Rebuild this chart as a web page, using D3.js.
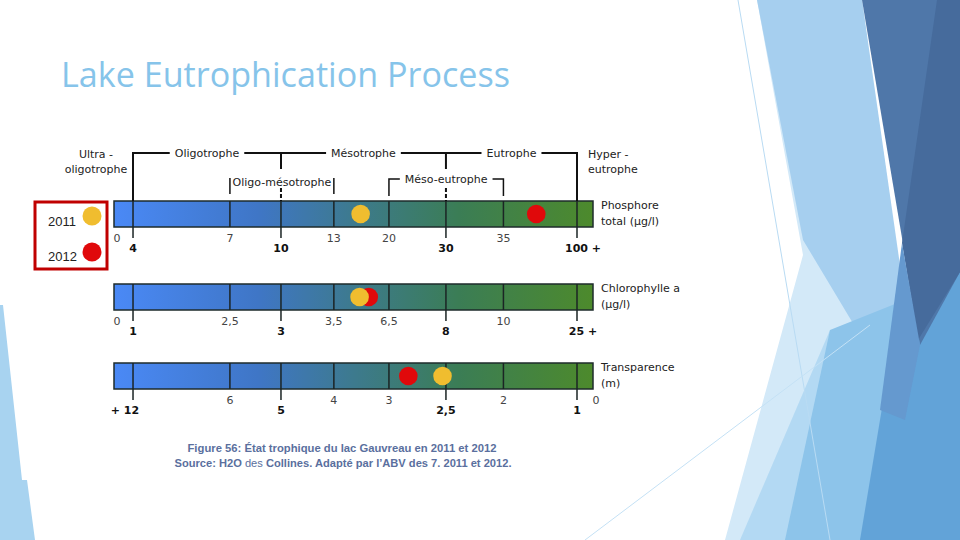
<!DOCTYPE html>
<html>
<head>
<meta charset="utf-8">
<script src="https://cdn.jsdelivr.net/npm/d3@7"></script>
<style>
body { margin: 0; background: #fff; }
svg { display: block; }
</style>
</head>
<body>
<svg id="slide" width="960" height="540"></svg>
<script>
// ---- data ----
var indicatorLabels = [["Phosphore", "total (µg/l)"], ["Chlorophylle a", "(µg/l)"], ["Transparence", "(m)"]];
var phosphoreTicks = [4, 7, 10, 13, 20, 30, 35, 100];
var chlorophylleTicks = [1, 2.5, 3, 3.5, 6.5, 8, 10, 25];
var transparenceTicks = [12, 6, 5, 4, 3, 2.5, 2, 1];
var phosphoreLabels = ["4", "7", "10", "13", "20", "30", "35", "100 +"];
var chlorophylleLabels = ["1", "2,5", "3", "3,5", "6,5", "8", "10", "25 +"];
var transparenceLabels = ["+ 12", "6", "5", "4", "3", "2,5", "2", "1"];
var majorTicks = [0, 2, 5, 7];           // tick index of the main class limits
var years = ["2011", "2012"];
var values2011 = [16.4, 4.9, 2.53];
var values2012 = [64, 5.4, 2.83];
var trophicClasses = ["Oligotrophe", "Mésotrophe", "Eutrophe"];
var transitionClasses = ["Oligo-mésotrophe", "Méso-eutrophe"];

// ---- layout ----
var barX0 = 114, barX1 = 593, barH = 26;
var barTops = [201, 284, 363];
var limitPos = [.0397, .242, .3486, .459, .574, .693, .813, .9666]; // where class limits sit on the bar
var yearColors = {"2011": "#f0bd2f", "2012": "#e0090b"};
var ink = "#222";
var font = "DejaVu Sans";

var svg = d3.select("#slide");

// ---- slide decoration (theme) ----
var deco = svg.append("g");
function poly(pts, fill) {
  deco.append("polygon").attr("points", pts.map(function(p) { return p.join(","); }).join(" ")).attr("fill", fill);
}
poly([[0, 305], [3, 305], [22, 480], [27, 480], [35, 540], [0, 540]], "#a8d3f0");
poly([[757, 0], [862, 0], [905, 330], [880, 540], [725, 540], [803, 255]], "#d3e9f8");
poly([[757, 0], [862, 0], [905, 300], [860, 335], [803, 240]], "#a6cfef");
poly([[740, 540], [790, 540], [850, 340], [830, 330]], "#b3d9f3");
poly([[830, 330], [905, 300], [910, 540], [785, 540]], "#8dc4ea");
poly([[895, 330], [960, 250], [960, 540], [860, 540]], "#62a3d8");
poly([[862, 0], [960, 0], [960, 272], [920, 345]], "#4f77a9");
poly([[937, 0], [960, 0], [960, 272], [918, 340], [902, 243]], "#466b9c");
poly([[902, 243], [920, 345], [905, 420], [880, 410]], "#6599cf");
deco.append("line").attr("x1", 738).attr("y1", 0).attr("x2", 830).attr("y2", 540)
  .attr("stroke", "#b9dbf3").attr("stroke-width", 1);
deco.append("line").attr("x1", 585).attr("y1", 540).attr("x2", 870).attr("y2", 325)
  .attr("stroke", "#c4e1f5").attr("stroke-width", 1);

// figure background (the pasted picture is white)
svg.append("rect").attr("x", 22).attr("y", 130).attr("width", 560).attr("height", 350).attr("fill", "#fff");

// ---- title ----
svg.append("text").attr("x", 61).attr("y", 87)
  .attr("font-family", "Open Sans").attr("font-size", 34).attr("fill", "#86c4ea")
  .attr("textLength", 449).attr("lengthAdjust", "spacingAndGlyphs")
  .text("Lake Eutrophication Process");

// ---- scales, one per indicator, all sharing the class-limit positions ----
var span = barX1 - barX0;
function px(f) { return barX0 + f * span; }
var scales = [
  d3.scaleLinear().domain([0].concat(phosphoreTicks)).range([px(0)].concat(limitPos.map(px))),
  d3.scaleLinear().domain([0].concat(chlorophylleTicks)).range([px(0)].concat(limitPos.map(px))),
  d3.scaleLinear().domain(transparenceTicks.concat([0])).range(limitPos.map(px).concat([px(1)]))
];
var tickSets = [phosphoreTicks, chlorophylleTicks, transparenceTicks];
var labelSets = [phosphoreLabels, chlorophylleLabels, transparenceLabels];

var defs = svg.append("defs");
var grad = defs.append("linearGradient").attr("id", "troph").attr("x1", "0").attr("x2", "1").attr("y1", "0").attr("y2", "0");
[["0", "#4a89f6"], ["0.3", "#3f76c6"], ["0.5", "#3d7a8e"], ["0.72", "#3b7d55"], ["1", "#4d8a2c"]].forEach(function(s) {
  grad.append("stop").attr("offset", s[0]).attr("stop-color", s[1]);
});

indicatorLabels.forEach(function(lab, k) {
  var x = scales[k], top = barTops[k], bot = top + barH;
  var g = svg.append("g");
  g.append("rect").attr("x", barX0).attr("y", top).attr("width", span).attr("height", barH)
    .attr("fill", "url(#troph)").attr("stroke", "#1e2b2b").attr("stroke-width", 1.5);

  tickSets[k].forEach(function(t, i) {
    var major = majorTicks.indexOf(i) >= 0;
    g.append("line").attr("x1", x(t)).attr("x2", x(t)).attr("y1", top).attr("y2", major ? bot + 11 : bot)
      .attr("stroke", "#1b2424").attr("stroke-width", 1.5);
    var txt = labelSets[k][i];
    var dx = /\+$/.test(txt) ? 6 : (/^\+/.test(txt) ? -8 : 0);
    g.append("text").attr("x", x(t) + dx).attr("y", major ? bot + 25 : bot + 15)
      .attr("text-anchor", "middle").attr("font-family", font).attr("font-size", 11)
      .attr("font-weight", major ? "bold" : "normal").attr("fill", major ? "#111" : "#444")
      .text(txt);
  });
  // open end of the scale
  g.append("text").attr("x", x(0) + 3).attr("y", bot + 15).attr("text-anchor", "middle")
    .attr("font-family", font).attr("font-size", 11).attr("fill", "#444").text("0");

  // measured values (2011 drawn on top)
  [values2012, values2011].forEach(function(vals, j) {
    var yr = j === 0 ? "2012" : "2011";
    g.append("circle").attr("cx", x(vals[k])).attr("cy", top + barH / 2).attr("r", 9.3)
      .attr("fill", yearColors[yr]);
  });

  lab.forEach(function(line, i) {
    g.append("text").attr("x", barX1 + 8).attr("y", top + 8 + i * 15.5)
      .attr("font-family", font).attr("font-size", 11).attr("fill", ink).text(line);
  });
});

// ---- class brackets above the scale ----
var xs = scales[0];
var lim = phosphoreTicks.map(function(t) { return xs(t); });
var br = svg.append("g").attr("stroke", "#111").attr("stroke-width", 2).attr("fill", "none");
var bt = svg.append("g").attr("font-family", font).attr("font-size", 11).attr("fill", ink).attr("text-anchor", "middle");
var yMain = 153;
var mainLimits = majorTicks.map(function(i) { return lim[i]; });
var segStart = mainLimits[0];
trophicClasses.forEach(function(c, i) {
  var cx = (mainLimits[i] + mainLimits[i + 1]) / 2;
  var t = bt.append("text").attr("x", cx).attr("y", yMain + 4).text(c);
  var w = t.node().getComputedTextLength();
  br.append("line").attr("x1", segStart).attr("x2", cx - w / 2 - 5).attr("y1", yMain).attr("y2", yMain);
  segStart = cx + w / 2 + 5;
});
br.append("line").attr("x1", segStart).attr("x2", mainLimits[3]).attr("y1", yMain).attr("y2", yMain);
br.append("line").attr("x1", mainLimits[0]).attr("x2", mainLimits[0]).attr("y1", yMain - 1).attr("y2", barTops[0]);
br.append("line").attr("x1", mainLimits[3]).attr("x2", mainLimits[3]).attr("y1", yMain - 1).attr("y2", barTops[0]);
[mainLimits[1], mainLimits[2]].forEach(function(lx) {
  br.append("line").attr("x1", lx).attr("x2", lx).attr("y1", yMain).attr("y2", 169);
  br.append("line").attr("x1", lx).attr("x2", lx).attr("y1", 188).attr("y2", barTops[0])
    .attr("stroke-dasharray", "4,2");
});

// Ultra / Hyper
bt.append("text").attr("x", 96).attr("y", 158).text("Ultra -");
bt.append("text").attr("x", 96).attr("y", 173).text("oligotrophe");
bt.append("text").attr("x", 588).attr("y", 158).attr("text-anchor", "start").text("Hyper -");
bt.append("text").attr("x", 588).attr("y", 173).attr("text-anchor", "start").text("eutrophe");

// transitional classes
var ol = [lim[1], lim[3]], me = [lim[4], lim[6]];
bt.append("text").attr("x", (ol[0] + ol[1]) / 2).attr("y", 186).text(transitionClasses[0]);
br.selectAll(null).data(ol).enter().append("line").attr("stroke-width", 1.5)
  .attr("x1", function(d) { return d; }).attr("x2", function(d) { return d; }).attr("y1", 178).attr("y2", 194);
var mt = bt.append("text").attr("x", (me[0] + me[1]) / 2).attr("y", 183).text(transitionClasses[1]);
var mw = mt.node().getComputedTextLength(), mc = (me[0] + me[1]) / 2;
br.append("polyline").attr("stroke-width", 1.5)
  .attr("points", [[me[0], 196], [me[0], 179], [mc - mw / 2 - 5, 179]].join(" "));
br.append("polyline").attr("stroke-width", 1.5)
  .attr("points", [[mc + mw / 2 + 5, 179], [me[1], 179], [me[1], 196]].join(" "));

// ---- legend ----
var lg = svg.append("g");
lg.append("rect").attr("x", 35).attr("y", 202).attr("width", 72).attr("height", 67)
  .attr("fill", "#fff").attr("stroke", "#c00000").attr("stroke-width", 3);
years.forEach(function(y, i) {
  lg.append("text").attr("x", 48).attr("y", 226 + i * 35).attr("font-family", "Liberation Sans")
    .attr("font-size", 13).attr("fill", "#222").text(y);
  lg.append("circle").attr("cx", 92).attr("cy", 216 + i * 36).attr("r", 9.5).attr("fill", yearColors[y]);
});

// ---- caption ----
var cap = svg.append("g").attr("font-family", "Liberation Sans").attr("font-size", 11)
  .attr("fill", "#5a6f9e").attr("text-anchor", "middle");
cap.append("text").attr("x", 342).attr("y", 452).attr("font-weight", "bold")
  .attr("textLength", 309).attr("lengthAdjust", "spacingAndGlyphs")
  .text("Figure 56: État trophique du lac Gauvreau en 2011 et 2012");
var l2 = cap.append("text").attr("x", 343).attr("y", 467).attr("textLength", 337).attr("lengthAdjust", "spacingAndGlyphs");
l2.append("tspan").attr("font-weight", "bold").text("Source: H2O ");
l2.append("tspan").text("des ");
l2.append("tspan").attr("font-weight", "bold").text("Collines. Adapté par l’ABV des 7. 2011 et 2012.");
</script>
</body>
</html>
